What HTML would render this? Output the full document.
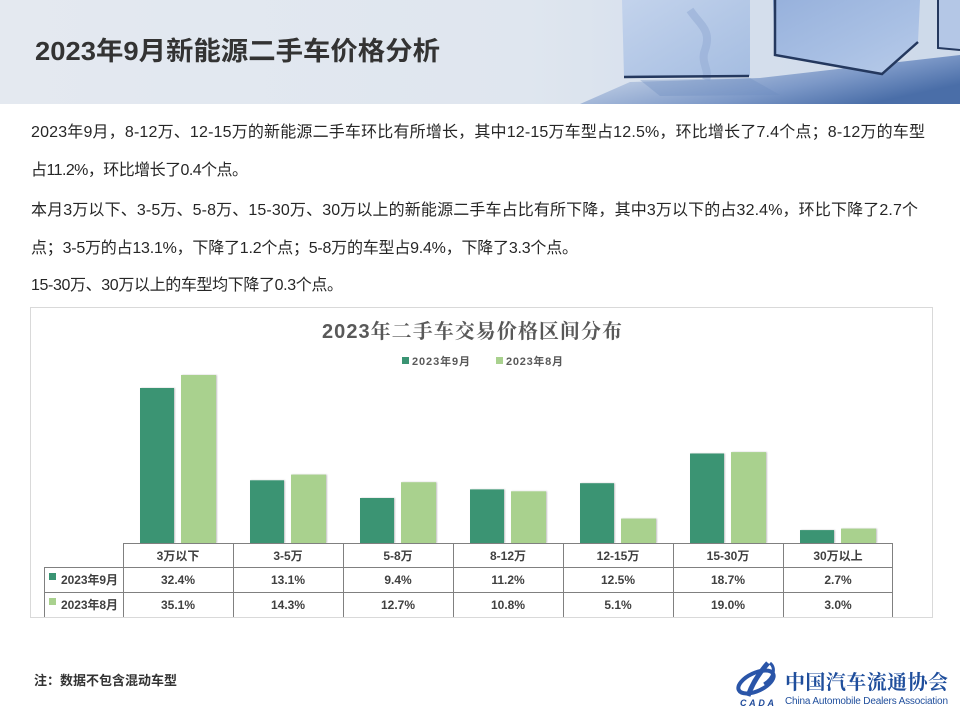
<!DOCTYPE html>
<html><head><meta charset="utf-8">
<style>
html,body{margin:0;padding:0;background:#fff;}
svg{display:block;}
.t{font-family:"Liberation Sans","Noto Sans CJK SC",sans-serif;}
</style></head>
<body>
<svg width="960" height="720" viewBox="0 0 960 720" xmlns="http://www.w3.org/2000/svg">
<defs>
<linearGradient id="hbg" x1="0" y1="0" x2="1" y2="0">
<stop offset="0" stop-color="#e4e9f0"/>
<stop offset="0.55" stop-color="#dfe6ef"/>
<stop offset="0.68" stop-color="#d8e1ed"/>
<stop offset="1" stop-color="#cdd9ea"/>
</linearGradient>
<linearGradient id="floor" x1="0" y1="0" x2="1" y2="0.6">
<stop offset="0" stop-color="#d3deec" stop-opacity="0"/>
<stop offset="0.3" stop-color="#b9c9e2"/>
<stop offset="0.7" stop-color="#7d99c8"/>
<stop offset="1" stop-color="#4a6ea8"/>
</linearGradient>
<linearGradient id="c1" x1="0" y1="0" x2="1" y2="1">
<stop offset="0" stop-color="#c3d3ec"/>
<stop offset="1" stop-color="#a5bde1"/>
</linearGradient>
<linearGradient id="c2" x1="0" y1="0" x2="1" y2="1">
<stop offset="0" stop-color="#97b1dc"/>
<stop offset="0.6" stop-color="#a9c0e4"/>
<stop offset="1" stop-color="#b8cbe9"/>
</linearGradient>
<filter id="sh" x="-5%" y="-5%" width="110%" height="110%">
<feDropShadow dx="1" dy="0" stdDeviation="0.8" flood-color="#000" flood-opacity="0.25"/>
</filter>
</defs>

<!-- header -->
<rect x="0" y="0" width="960" height="104" fill="url(#hbg)"/>
<polygon points="580,104 630,82 760,78 960,55 960,104" fill="url(#floor)"/>
<polygon points="622,0 750,0 750,76 624,77" fill="url(#c1)"/>
<path d="M690,10 C700,25 712,30 705,50 C700,62 710,70 706,80" stroke="#96aed6" stroke-width="8" fill="none" opacity="0.6"/>
<line x1="624" y1="77" x2="749" y2="76" stroke="#24385e" stroke-width="2.5"/>
<polygon points="640,80 750,78 780,95 660,96" fill="#6d8cc0" opacity="0.35"/>
<polygon points="773,0 920,0 918,42 882,74 775,55" fill="url(#c2)"/>
<polyline points="775,0 775,55 882,74 918,42" fill="none" stroke="#24385e" stroke-width="2.5"/>
<polygon points="938,0 960,0 960,50 938,48" fill="#b4c7e6"/>
<polyline points="938,0 938,48 960,50" fill="none" stroke="#24385e" stroke-width="2"/>
<text class="t" x="35" y="60" font-size="26" font-weight="bold" fill="#333" textLength="405" lengthAdjust="spacingAndGlyphs">2023年9月新能源二手车价格分析</text>

<!-- body text -->
<g class="t" font-size="16" fill="#262626">
<text x="31" y="137" textLength="894">2023年9月，8-12万、12-15万的新能源二手车环比有所增长，其中12-15万车型占12.5%，环比增长了7.4个点；8-12万的车型</text>
<text x="31" y="175" textLength="217">占11.2%，环比增长了0.4个点。</text>
<text x="31" y="215" textLength="887">本月3万以下、3-5万、5-8万、15-30万、30万以上的新能源二手车占比有所下降，其中3万以下的占32.4%，环比下降了2.7个</text>
<text x="31" y="253" textLength="547">点；3-5万的占13.1%，下降了1.2个点；5-8万的车型占9.4%，下降了3.3个点。</text>
<text x="31" y="290" textLength="312">15-30万、30万以上的车型均下降了0.3个点。</text>
</g>

<!-- chart frame -->
<rect x="30.5" y="307.5" width="902" height="310" fill="#fff" stroke="#d9d9d9" stroke-width="1"/>
<text x="322" y="338" font-size="20" font-weight="bold" fill="#595959" textLength="300" font-family="Liberation Sans,'Noto Serif CJK SC',serif"><tspan font-family="Liberation Sans,sans-serif">2023</tspan><tspan font-family="'Noto Serif CJK SC',serif">年二手车交易价格区间分布</tspan></text>

<!-- legend -->
<rect x="402" y="357" width="7" height="7" fill="#3a9473"/>
<text class="t" x="412" y="365" font-size="11" font-weight="bold" fill="#595959" textLength="58">2023年9月</text>
<rect x="496" y="357" width="7" height="7" fill="#a9d18e"/>
<text class="t" x="506" y="365" font-size="11" font-weight="bold" fill="#595959" textLength="57">2023年8月</text>

<!-- bars -->
<g fill="#3a9473" filter="url(#sh)">
<rect x="140" y="388" width="34" height="155"/>
<rect x="250" y="480.3" width="34" height="62.7"/>
<rect x="360" y="498" width="34" height="45"/>
<rect x="470" y="489.4" width="34" height="53.6"/>
<rect x="580" y="483.2" width="34" height="59.8"/>
<rect x="690" y="453.5" width="34" height="89.5"/>
<rect x="800" y="530.1" width="34" height="12.9"/>
</g>
<g fill="#a9d18e" filter="url(#sh)">
<rect x="181" y="375" width="35" height="168"/>
<rect x="291" y="474.6" width="35" height="68.4"/>
<rect x="401" y="482.2" width="35" height="60.8"/>
<rect x="511" y="491.3" width="35" height="51.7"/>
<rect x="621" y="518.6" width="35" height="24.4"/>
<rect x="731" y="452.1" width="35" height="90.9"/>
<rect x="841" y="528.6" width="35" height="14.4"/>
</g>

<!-- data table -->
<g stroke="#808080" stroke-width="1" fill="none">
<line x1="123" y1="543.5" x2="893" y2="543.5"/>
<line x1="44" y1="567.5" x2="893" y2="567.5"/>
<line x1="44" y1="592.5" x2="893" y2="592.5"/>
<line x1="44.5" y1="567" x2="44.5" y2="617"/>
<line x1="123.5" y1="543" x2="123.5" y2="617"/>
<line x1="233.5" y1="543" x2="233.5" y2="617"/>
<line x1="343.5" y1="543" x2="343.5" y2="617"/>
<line x1="453.5" y1="543" x2="453.5" y2="617"/>
<line x1="563.5" y1="543" x2="563.5" y2="617"/>
<line x1="673.5" y1="543" x2="673.5" y2="617"/>
<line x1="783.5" y1="543" x2="783.5" y2="617"/>
<line x1="892.5" y1="543" x2="892.5" y2="617"/>
</g>
<g class="t" font-size="12" font-weight="bold" fill="#404040" text-anchor="middle">
<text x="178" y="560">3万以下</text>
<text x="288" y="560">3-5万</text>
<text x="398" y="560">5-8万</text>
<text x="508" y="560">8-12万</text>
<text x="618" y="560">12-15万</text>
<text x="728" y="560">15-30万</text>
<text x="838" y="560">30万以上</text>
<text x="178" y="584">32.4%</text>
<text x="288" y="584">13.1%</text>
<text x="398" y="584">9.4%</text>
<text x="508" y="584">11.2%</text>
<text x="618" y="584">12.5%</text>
<text x="728" y="584">18.7%</text>
<text x="838" y="584">2.7%</text>
<text x="178" y="609">35.1%</text>
<text x="288" y="609">14.3%</text>
<text x="398" y="609">12.7%</text>
<text x="508" y="609">10.8%</text>
<text x="618" y="609">5.1%</text>
<text x="728" y="609">19.0%</text>
<text x="838" y="609">3.0%</text>
</g>
<rect x="49" y="573" width="7" height="7" fill="#3a9473"/>
<text class="t" x="61" y="584" font-size="12" font-weight="bold" fill="#404040" textLength="57">2023年9月</text>
<rect x="49" y="598" width="7" height="7" fill="#a9d18e"/>
<text class="t" x="61" y="609" font-size="12" font-weight="bold" fill="#404040" textLength="57">2023年8月</text>

<!-- footer note -->
<text class="t" x="34" y="685" font-size="13" font-weight="bold" fill="#333" textLength="143">注：数据不包含混动车型</text>

<!-- logo -->
<g>
<ellipse cx="756" cy="682" rx="19" ry="9" fill="none" stroke="#2a55a8" stroke-width="4" transform="rotate(-25 756 682)"/>
<path d="M768,663 C760,672 752,684 748,696" stroke="#2a55a8" stroke-width="5" fill="none"/>
<path d="M770,663 C776,668 774,678 764,684" stroke="#2a55a8" stroke-width="3" fill="none"/>
<text x="740" y="706" font-size="9" font-weight="bold" font-style="italic" fill="#1f4a9a" font-family="Liberation Sans,sans-serif" textLength="34">CADA</text>
</g>
<text x="785" y="689" font-size="20" font-weight="bold" fill="#1f4e9c" font-family="'Noto Serif CJK SC',serif" textLength="163">中国汽车流通协会</text>
<text x="785" y="704" font-size="10" fill="#1f4e9c" font-family="Liberation Sans,sans-serif" textLength="163">China Automobile Dealers Association</text>
</svg>
</body></html>
